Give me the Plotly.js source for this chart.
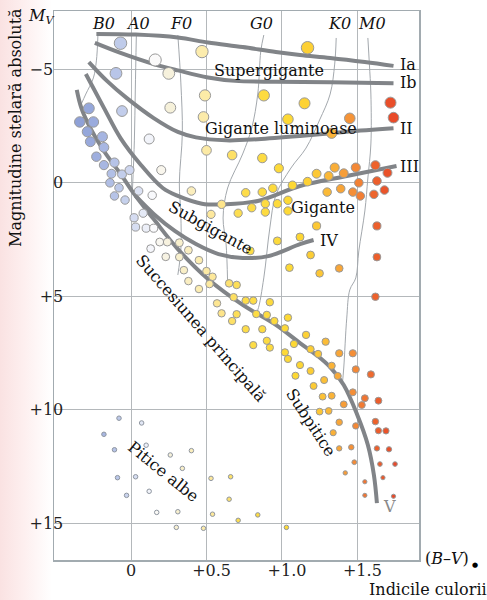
<!DOCTYPE html>
<html><head><meta charset="utf-8">
<script src="https://cdn.plot.ly/plotly-3.0.1.min.js"></script>
<style>
html,body{margin:0;padding:0;}
body{width:487px;height:600px;overflow:hidden;background:linear-gradient(to right,#fae2e2 0px,#fdeeee 22px,#ffffff 52px);}
#chart{width:487px;height:600px;}
</style></head><body><div id="chart"></div>
<script>
// ---- Stars (B-V colour index, absolute magnitude M_V) ----
const starBV = [
 -0.07,0.16,0.25,-0.10,-0.28,-0.06,0.26,-0.34,-0.25,-0.29,-0.27,-0.19,-0.18,0.12,-0.23,-0.18,-0.11,-0.13,-0.06,-0.01,0.20,-0.14,-0.08,-0.11,-0.04,0.05,0.14,0.02,0.08,0.03,0.10,0.15,0.13,0.19,0.24,0.23,
 0.47,0.88,0.49,0.48,1.04,0.50,0.67,0.87,0.98,0.40,0.76,0.87,0.94,1.07,0.60,0.71,0.80,0.89,0.89,0.97,1.04,1.04,0.53,0.79,0.97,1.05,0.32,0.38,0.32,0.45,0.35,0.50,0.54,0.38,
 1.17,1.15,1.45,1.33,1.72,1.74,1.17,1.23,1.31,1.35,1.41,1.49,1.62,1.70,1.30,1.39,1.51,1.47,1.52,1.63,1.61,1.68,1.23,1.63,1.12,1.19,1.63,1.25,1.38,
 0.45,0.52,0.65,0.70,0.57,0.68,0.76,0.81,0.92,0.60,0.70,0.67,0.83,0.90,0.95,1.04,0.76,0.87,1.02,0.81,0.90,0.92,1.08,1.02,1.04,1.09,
 1.62,1.16,1.29,1.19,1.24,1.38,1.47,1.12,1.19,1.33,1.37,1.49,1.59,1.21,1.28,1.27,1.33,1.47,1.41,1.53,1.55,1.64,1.25,1.31,1.38,1.49,1.62,1.64,1.69,1.34,1.38,1.46,1.63,1.71,1.48,1.65,1.75,1.42,1.67,1.55,1.55,1.74
];
const starMV = [
 -6.15,-5.41,-4.82,-4.82,-3.28,-3.16,-3.31,-2.68,-2.68,-2.25,-1.81,-2.03,-1.56,-1.93,-1.15,-0.78,-0.89,-0.40,-0.37,-0.56,-0.56,0.00,0.22,0.58,0.76,0.36,0.55,1.54,1.34,1.95,2.00,2.00,2.90,2.61,2.61,3.26,
 -5.78,-3.85,-3.85,-2.90,-2.80,-1.43,-1.22,-1.09,-0.64,0.36,0.44,0.41,0.24,0.11,0.95,1.34,1.10,0.92,1.29,0.92,0.77,1.24,1.39,3.00,2.56,3.74,2.64,2.97,3.27,3.41,3.85,3.89,4.14,4.33,
 -5.95,-3.50,-2.84,-2.18,-3.53,-2.87,-0.05,-0.40,-0.30,-0.67,-0.42,-0.67,-0.77,-0.44,0.41,0.26,0.00,0.41,0.58,-0.08,0.51,0.32,1.90,1.90,2.39,3.18,3.27,3.99,3.77,
 4.68,4.46,4.43,4.50,5.31,5.04,5.19,5.19,5.26,5.75,5.79,6.09,5.78,5.82,6.09,5.94,6.45,6.45,6.41,7.15,6.96,7.26,7.10,7.47,7.76,8.50,
 5.02,6.70,7.00,7.33,7.54,7.51,7.51,8.03,8.29,8.06,8.51,8.22,8.44,8.95,8.69,9.42,9.38,9.23,9.76,9.79,9.49,9.60,10.08,10.05,10.55,10.71,10.52,10.92,10.93,11.01,11.70,11.65,11.70,11.74,12.31,12.39,12.39,12.78,12.99,13.17,13.77,13.81
];
// White dwarfs
const wdBV = [-0.08,0.07,-0.18,-0.11,0.10,0.26,-0.09,0.03,-0.03,0.12,0.17,0.40,0.34,0.53,0.66,0.65,0.31,0.54,0.71,0.84,0.30,0.48,1.03];
const wdMV = [10.37,10.58,11.08,11.76,11.56,11.99,12.99,12.95,13.77,13.59,14.52,11.80,12.58,13.02,12.95,13.94,14.49,14.60,14.87,14.63,15.18,15.22,15.18];

// ---- Luminosity-class sequences ----
const iaBV = [-0.23,0.03,0.31,0.51,0.74,0.96,1.12,1.32,1.55,1.74];
const iaMV = [-6.56,-6.53,-6.40,-6.18,-5.98,-5.76,-5.63,-5.50,-5.32,-5.15];
const ibBV = [-0.24,-0.07,0.15,0.31,0.51,0.69,0.96,1.32,1.74];
const ibMV = [-6.16,-5.72,-5.23,-4.95,-4.64,-4.49,-4.45,-4.43,-4.38];
const iiBV = [-0.28,-0.16,-0.03,0.15,0.31,0.43,0.63,0.84,1.12,1.43,1.74];
const iiMV = [-5.32,-4.49,-3.74,-2.85,-2.24,-2.00,-1.87,-1.92,-2.06,-2.25,-2.40];
const iiiBV = [-0.30,-0.18,-0.07,0.06,0.21,0.31,0.47,0.63,0.84,1.12,1.43,1.76];
const iiiMV = [-4.79,-3.30,-1.97,-0.83,0.23,0.58,0.92,0.95,0.80,0.14,-0.30,-0.74];
const ivBV = [0.03,0.15,0.29,0.43,0.58,0.74,0.91,1.12,1.21];
const ivMV = [0.58,1.37,2.12,2.70,3.14,3.31,3.23,2.70,2.52];
const vBV = [-0.36,-0.33,-0.27,-0.18,-0.07,0.02,0.15,0.31,0.51,0.74,0.96,1.12,1.23,1.32,1.41,1.50,1.57,1.61,1.63];
const vMV = [-4.09,-3.30,-2.41,-1.40,-0.39,0.49,1.60,2.92,4.24,5.38,6.26,7.06,7.59,8.12,8.91,10.23,11.55,12.87,14.11];

// ---- Spectral-type boundaries ----
const b0BV = [-0.22,-0.23,-0.25,-0.30,-0.33];
const b0MV = [-6.47,-5.37,-4.62,-3.91,-3.47];
const a0BV = [0.035,0.028,0.022,0.009];
const a0MV = [-6.51,-4.09,-1.88,0.32];
const f0BV = [0.31,0.33,0.34,0.32,0.33,0.33,0.31];
const f0MV = [-6.51,-4.40,-2.19,0.01,1.42,2.96,4.06];
const g0BV = [0.88,0.86,0.84,0.80,0.74,0.64,0.61,0.63,0.64];
const g0MV = [-6.51,-5.80,-3.91,-2.41,-1.27,0.23,1.55,2.70,4.37];
const k0BV = [1.36,1.35,1.32,1.25,1.16,1.06,0.96,0.92,0.88,0.84,0.82];
const k0MV = [-6.38,-5.23,-3.91,-2.77,-1.53,-0.65,0.54,1.99,4.19,5.60,5.82];
const m0BV = [1.57,1.58,1.59,1.59,1.57,1.55,1.51,1.49,1.45,1.43,1.41,1.40];
const m0MV = [-6.38,-5.23,-3.91,-1.71,-0.21,1.24,3.00,4.19,4.72,5.96,8.16,8.91];

// ---- Labels ----
const spectralNames = ['B0','A0','F0','G0','K0','M0'];
const spectralBV = [-0.18,0.046,0.333,0.868,1.38,1.60];
const classNames = ['Ia','Ib','II','III'];
const classMV = [-5.20,-4.40,-2.37,-0.74];
const xTickVals = [0,0.5,1,1.5];
const xTickText = ['0','\u00a0\u00a0+0.5','\u00a0\u00a0+1.0','\u00a0\u00a0+1.5'];
const yTickVals = [-5,0,5,10,15];
const yTickText = ['\u22125\u00a0\u00a0','0','+5','+10','+15'];

// ---- styling helpers ----
const FONT = 'DejaVu Serif, Liberation Serif, serif';
const bvStops = [[-0.40,'#889bd3'],[-0.25,'#9aabdd'],[-0.10,'#b8c5e8'],[0.05,'#dce2f3'],[0.15,'#fbfbfd'],[0.25,'#f6f1dc'],[0.45,'#fcedb2'],[0.60,'#fde48a'],[0.72,'#fddd4c'],[1.10,'#fdd832'],[1.25,'#fcc636'],[1.35,'#f9ae38'],[1.45,'#f59438'],[1.55,'#f07532'],[1.65,'#eb5a2a'],[1.80,'#e6412a']];
const CMIN=-0.4, CMAX=1.8;
const cscale = bvStops.map(s=>[(s[0]-CMIN)/(CMAX-CMIN), s[1]]);
const sizeM = [-7,-6,-3.5,-1.3,0,4,8,10,11,12,13,16];
const sizeD = [12.5,12.5,11,9.6,8.6,7.6,7.2,6.8,6.2,5,4.2,4.2];
function sizeFor(m){
  if(m<=sizeM[0]) return sizeD[0];
  for(let i=1;i<sizeM.length;i++){ if(m<=sizeM[i]){const t=(m-sizeM[i-1])/(sizeM[i]-sizeM[i-1]); return sizeD[i-1]+t*(sizeD[i]-sizeD[i-1]);} }
  return sizeD[sizeD.length-1];
}

const traces = [];
const thin = [[b0BV,b0MV],[a0BV,a0MV],[f0BV,f0MV],[g0BV,g0MV],[k0BV,k0MV],[m0BV,m0MV]];
thin.forEach(c=>traces.push({x:c[0],y:c[1],mode:'lines',line:{color:'#a3a8ad',width:1,shape:'spline',smoothing:1},hoverinfo:'skip'}));
const thick = [[iaBV,iaMV],[ibBV,ibMV],[iiBV,iiMV],[iiiBV,iiiMV],[ivBV,ivMV],[vBV,vMV]];
thick.forEach(c=>traces.push({x:c[0],y:c[1],mode:'lines',line:{color:'#818488',width:4,shape:'spline',smoothing:1},hoverinfo:'skip'}));
traces.push({x:starBV,y:starMV,mode:'markers',marker:{size:starMV.map(sizeFor),opacity:1,color:starBV,colorscale:cscale,cmin:CMIN,cmax:CMAX,line:{color:'#999999',width:1}}});
traces.push({x:wdBV,y:wdMV,mode:'markers',marker:{size:4.5,opacity:1,color:wdBV,colorscale:cscale,cmin:CMIN,cmax:CMAX,line:{color:'#8f96a0',width:1}}});

const ann = [];
const tf = (s,extra)=>Object.assign({font:{family:FONT,size:16,color:'#111'},showarrow:false,xanchor:'center',yanchor:'middle',borderpad:0},extra||{},{text:s});
spectralNames.forEach((s,i)=>ann.push(tf('<i>'+s+'</i>',{x:spectralBV[i],y:-7.0,xref:'x',yref:'y'})));
classNames.forEach((s,i)=>ann.push(tf(s,{x:1.777,y:classMV[i],xanchor:'left',xref:'x',yref:'y'})));
ann.push(tf('IV',{x:1.247,y:2.54,xanchor:'left'}));
ann.push(tf('V',{x:1.662,y:14.26,xanchor:'left',font:{family:FONT,size:16,color:'#8a8a8a'}}));
ann.push(tf('Supergigante',{x:0.913,y:-4.93}));
ann.push(tf('Gigante luminoase',{x:0.995,y:-2.41}));
ann.push(tf('Gigante',{x:1.27,y:1.11}));
ann.push(tf('Subgigante',{x:0.525,y:1.99,textangle:29}));
ann.push(tf('Succesiunea principală',{x:0.466,y:6.40,textangle:49}));
ann.push(tf('Subpitice',{x:1.194,y:10.54,textangle:57}));
ann.push(tf('Pitice albe',{x:0.214,y:12.70,textangle:39}));
ann.push(tf('Magnitudine stelară absolută',{xref:'paper',yref:'paper',x:-0.104,y:0.787,textangle:-90,font:{family:FONT,size:16,color:'#111'}}));
ann.push(tf('<i>M</i><sub><i>V</i></sub>',{xref:'paper',yref:'paper',x:-0.074,y:0.990,xanchor:'left'}));
ann.push(tf('(<i>B</i>–<i>V</i>)',{xref:'paper',yref:'paper',x:1.077,y:0.002}));
ann.push(tf('●',{xref:'paper',yref:'paper',x:1.153,y:-0.010,font:{family:'DejaVu Sans',size:7,color:'#000'}}));
ann.push(tf('Indicile culorii',{xref:'paper',yref:'paper',x:0.860,y:-0.053,xanchor:'left'}));

const layout = {
  width:487,height:600,
  margin:{l:54,r:68,t:11,b:40,pad:0},
  paper_bgcolor:'rgba(0,0,0,0)',plot_bgcolor:'#ffffff',
  showlegend:false,
  xaxis:{range:[-0.511,1.909],tickvals:xTickVals,ticktext:xTickText,showgrid:true,gridcolor:'#b4b8bb',gridwidth:1,zeroline:false,
    showline:true,mirror:true,linecolor:'#a2abb0',linewidth:1.5,ticks:'',ticklabelstandoff:-5,tickfont:{family:FONT,size:16,color:'#222'}},
  yaxis:{range:[16.617,-7.568],tickvals:yTickVals,ticktext:yTickText,showgrid:true,gridcolor:'#b4b8bb',gridwidth:1,zeroline:false,
    showline:true,mirror:true,linecolor:'#a2abb0',linewidth:1.5,ticks:'',ticklabelstandoff:-14,tickfont:{family:FONT,size:16,color:'#222'}},
  annotations:ann
};
Plotly.newPlot('chart',traces,layout,{staticPlot:true,displayModeBar:false});
</script></body></html>
